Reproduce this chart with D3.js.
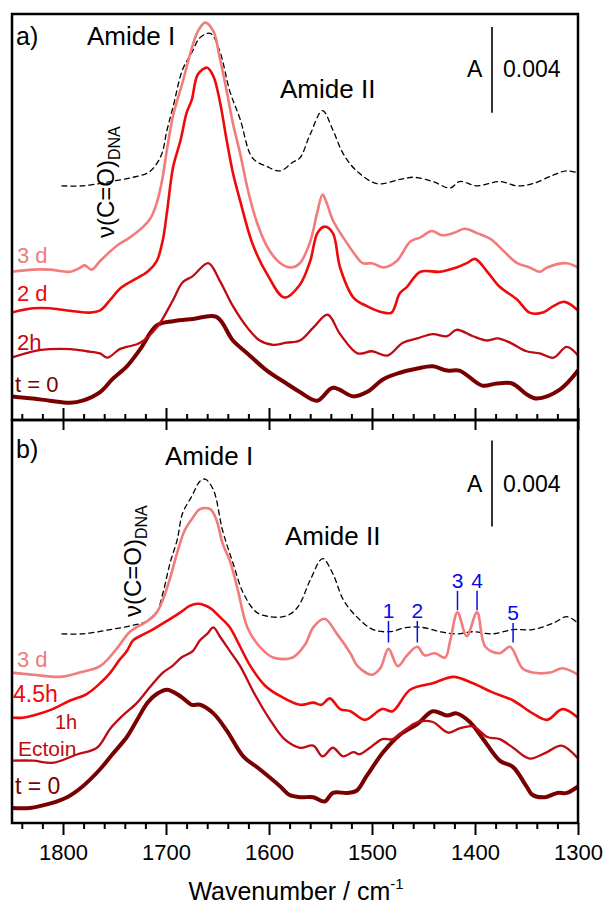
<!DOCTYPE html>
<html>
<head>
<meta charset="utf-8">
<script src="https://cdn.jsdelivr.net/npm/d3@7"></script>
<style>
  body { margin: 0; background: #fff; }
  svg { display: block; }
  text { font-family: "Liberation Sans", Arial, sans-serif; }
</style>
</head>
<body>
<div id="chart"></div>
<script>
// spectra as [wavenumber / cm-1, absorbance x 1e-3 (stacked offsets included)]
const a3d = [[1850,6.9],[1829,7.0],[1813,7.0],[1793,6.9],[1783,7.1],[1779,7.2],[1772,7.0],[1764,7.4],[1748,8.1],[1735,8.5],[1722,9.0],[1715,9.4],[1709,10.1],[1704,11.1],[1699,12.6],[1693,14.2],[1684,15.7],[1675,17.3],[1669,18.1],[1662,18.5],[1654,18.1],[1648,16.9],[1641,15.3],[1635,13.8],[1628,12.4],[1620,10.6],[1611,9.1],[1601,8.0],[1589,7.3],[1578,7.1],[1570,7.3],[1560,8.3],[1553,9.7],[1548,10.5],[1544,10.1],[1538,9.3],[1528,8.5],[1518,7.8],[1509,7.3],[1500,7.3],[1489,7.1],[1476,7.4],[1463,8.3],[1453,8.5],[1442,8.8],[1432,8.6],[1421,8.7],[1410,8.9],[1398,8.7],[1384,8.4],[1373,7.9],[1359,7.3],[1347,7.1],[1337,6.9],[1330,7.1],[1311,7.3],[1300,7.1]];
const a2d = [[1850,5.0],[1829,5.2],[1813,5.2],[1796,5.1],[1774,5.0],[1764,5.1],[1754,5.6],[1745,6.1],[1732,6.5],[1718,6.9],[1709,7.4],[1703,8.4],[1699,9.7],[1693,11.8],[1686,13.0],[1680,14.3],[1675,14.9],[1669,16.1],[1660,16.4],[1654,16.0],[1648,14.9],[1641,13.0],[1635,11.5],[1628,10.2],[1616,8.2],[1602,6.8],[1585,5.7],[1570,6.3],[1560,7.4],[1553,8.7],[1546,9.0],[1538,8.7],[1531,7.1],[1518,5.7],[1505,5.3],[1489,5.0],[1481,5.0],[1473,5.9],[1466,6.2],[1453,6.9],[1434,6.9],[1418,7.1],[1408,7.3],[1400,7.5],[1388,6.9],[1376,6.2],[1359,5.6],[1347,5.0],[1334,5.0],[1324,5.3],[1313,5.5],[1300,5.1]];
const a2h = [[1850,2.9],[1829,3.2],[1813,3.3],[1793,3.3],[1777,3.2],[1764,3.1],[1757,2.9],[1745,3.3],[1738,3.4],[1725,3.6],[1709,4.3],[1693,5.6],[1684,6.4],[1674,6.7],[1659,7.3],[1648,6.5],[1635,5.3],[1621,4.3],[1609,3.7],[1596,3.5],[1583,3.6],[1570,3.7],[1557,4.3],[1543,4.9],[1531,4.0],[1514,3.1],[1500,3.2],[1485,3.0],[1470,3.6],[1456,3.8],[1441,4.0],[1427,3.9],[1418,4.2],[1402,3.9],[1388,3.7],[1378,3.8],[1366,3.6],[1350,3.2],[1337,3.1],[1324,2.9],[1311,3.4],[1300,3.0]];
const a0 = [[1850,1.1],[1829,1.0],[1813,0.9],[1793,0.8],[1781,0.9],[1764,1.3],[1752,1.9],[1738,2.5],[1725,3.3],[1709,4.4],[1693,4.6],[1674,4.7],[1651,4.8],[1635,3.7],[1621,3.1],[1602,2.3],[1583,1.7],[1570,1.3],[1553,0.9],[1538,1.5],[1518,1.1],[1505,1.3],[1489,1.9],[1473,2.2],[1456,2.4],[1441,2.5],[1427,2.3],[1415,2.3],[1393,1.6],[1379,1.7],[1364,1.7],[1350,1.2],[1340,1.0],[1318,1.4],[1300,2.3]];
const aDna = [[1801,10.9],[1781,10.9],[1754,11.1],[1732,11.3],[1718,11.5],[1711,11.8],[1704,12.4],[1699,13.5],[1693,14.6],[1684,16.3],[1675,17.1],[1667,17.8],[1657,18.0],[1648,17.2],[1638,15.3],[1628,14.0],[1616,12.2],[1602,11.8],[1589,11.6],[1577,12.0],[1570,12.2],[1560,13.3],[1548,14.4],[1538,13.5],[1528,12.4],[1515,11.6],[1495,11.0],[1473,11.2],[1460,11.3],[1441,11.1],[1424,10.8],[1415,11.1],[1398,10.9],[1376,11.1],[1359,10.9],[1344,11.0],[1324,11.4],[1311,11.6],[1300,11.5]];

const b3d = [[1850,7.0],[1829,6.9],[1803,6.8],[1784,7.0],[1764,7.3],[1748,8.1],[1735,8.9],[1718,9.4],[1709,9.8],[1703,10.4],[1696,11.4],[1689,12.6],[1682,13.6],[1674,14.2],[1667,14.6],[1657,14.6],[1651,14.1],[1645,13.0],[1638,12.2],[1631,11.0],[1621,9.1],[1609,8.2],[1596,7.7],[1577,7.7],[1565,8.3],[1557,9.1],[1546,9.5],[1534,8.8],[1521,7.9],[1514,7.3],[1500,6.9],[1492,7.2],[1484,8.1],[1475,7.3],[1466,7.8],[1456,8.2],[1449,7.8],[1439,7.9],[1429,7.7],[1424,8.5],[1417,9.8],[1408,8.7],[1398,9.8],[1390,8.2],[1376,7.9],[1366,8.2],[1354,7.2],[1344,7.0],[1327,7.0],[1315,7.2],[1300,6.9]];
const b45h = [[1850,4.9],[1839,4.9],[1829,5.0],[1810,5.3],[1793,5.7],[1777,6.0],[1764,6.5],[1754,7.0],[1745,7.6],[1738,8.0],[1732,8.5],[1725,8.7],[1713,9.0],[1699,9.4],[1686,9.8],[1677,10.1],[1669,10.2],[1657,10.0],[1648,9.6],[1638,9.1],[1628,8.2],[1618,7.3],[1604,6.4],[1589,5.9],[1570,5.5],[1557,5.6],[1549,5.5],[1541,5.8],[1531,5.3],[1521,5.2],[1507,4.8],[1490,5.3],[1480,5.2],[1463,6.2],[1441,6.5],[1421,6.8],[1402,6.5],[1384,6.1],[1363,5.7],[1344,5.1],[1330,4.8],[1315,5.3],[1300,4.9]];
const b1h = [[1850,2.9],[1829,2.9],[1810,2.8],[1786,3.2],[1767,3.5],[1754,4.4],[1742,5.0],[1728,5.6],[1716,6.3],[1703,7.0],[1694,7.3],[1685,7.7],[1674,8.0],[1667,8.5],[1660,8.8],[1654,9.1],[1648,8.7],[1638,8.0],[1628,7.3],[1614,6.0],[1599,4.8],[1585,3.9],[1570,3.5],[1557,3.6],[1548,3.1],[1538,3.5],[1528,3.1],[1518,3.3],[1512,3.2],[1502,3.5],[1490,3.9],[1480,3.9],[1466,4.4],[1455,4.7],[1441,4.7],[1426,4.2],[1415,4.4],[1402,4.5],[1388,4.0],[1376,3.9],[1363,3.5],[1347,3.0],[1330,3.3],[1316,3.6],[1300,3.0]];
const b0 = [[1850,0.7],[1832,0.7],[1813,0.9],[1796,1.2],[1781,1.7],[1764,2.5],[1752,3.2],[1738,4.0],[1728,4.8],[1718,5.6],[1709,6.0],[1699,6.2],[1686,5.9],[1675,5.5],[1667,5.5],[1654,5.1],[1641,4.3],[1625,3.1],[1609,2.5],[1589,1.7],[1580,1.3],[1570,1.2],[1557,1.2],[1546,1.0],[1538,1.4],[1524,1.4],[1515,1.5],[1505,2.2],[1489,3.3],[1473,4.1],[1456,4.6],[1441,5.2],[1427,5.0],[1418,5.1],[1405,4.7],[1392,3.9],[1376,2.9],[1363,2.6],[1350,1.7],[1344,1.3],[1332,1.2],[1320,1.4],[1311,1.4],[1300,1.7]];
const bDna = [[1801,8.8],[1781,8.8],[1754,9.0],[1732,9.2],[1718,9.4],[1709,9.8],[1703,10.7],[1696,12.1],[1689,13.2],[1684,14.4],[1675,15.2],[1667,15.9],[1662,16.0],[1654,15.5],[1645,13.6],[1635,12.1],[1625,10.7],[1612,9.8],[1599,9.6],[1586,9.6],[1577,9.8],[1570,10.2],[1560,11.3],[1548,12.3],[1538,11.6],[1528,10.4],[1515,9.6],[1499,9.0],[1483,8.9],[1466,9.1],[1451,9.1],[1434,8.9],[1418,8.8],[1402,8.9],[1383,8.8],[1363,9.0],[1344,9.0],[1324,9.3],[1311,9.6],[1300,9.3]];

const majorTicks = [1800, 1700, 1600, 1500, 1400, 1300];
const peakLabels = ['1', '2', '3', '4', '5'];
const peakWn = [1484, 1456, 1417, 1398, 1363];
const peakTop = [9.4, 9.4, 10.8, 10.8, 9.3];   // marker top, x 1e-3
const peakBottom = [8.4, 8.4, 9.9, 9.9, 8.4];

const colors = { d3: '#f27b7b', red: '#ee0a0a', mid: '#c00a12', t0: '#780000' };

const svg = d3.select('#chart').append('svg').attr('width', 606).attr('height', 908);

const x = d3.scaleLinear().domain([1850, 1300]).range([11.5, 578]);
const left = 12, right = 578;

const panels = [
  {
    id: 'a', top: 14, bottom: 420, ymax: 18.9,
    curves: [
      { data: aDna, color: '#000', width: 1.3, dash: '5,4' },
      { data: a0, color: colors.t0, width: 4 },
      { data: a2h, color: colors.mid, width: 2.3 },
      { data: a2d, color: colors.red, width: 2.6 },
      { data: a3d, color: colors.d3, width: 2.6 },
    ],
    labels: [
      { t: '3 d', x: 17, y: 263, c: colors.d3 },
      { t: '2 d', x: 17, y: 301, c: colors.red },
      { t: '2h', x: 17, y: 350, c: colors.mid },
      { t: 't = 0', x: 15, y: 392, c: colors.t0 },
    ],
    tag: { t: 'a)', x: 16, y: 45 },
    amide1: { x: 87, y: 45 }, amide2: { x: 280, y: 98 },
    nu: { x: 114, y: 238 },
    bar: { y: 77, top: 18.3 },
  },
  {
    id: 'b', top: 420, bottom: 823, ymax: 18.75,
    curves: [
      { data: bDna, color: '#000', width: 1.3, dash: '5,4' },
      { data: b0, color: colors.t0, width: 4 },
      { data: b1h, color: colors.mid, width: 2.3 },
      { data: b45h, color: colors.red, width: 2.6 },
      { data: b3d, color: colors.d3, width: 2.6 },
    ],
    labels: [
      { t: '3 d', x: 17, y: 667, c: colors.d3, s: 22 },
      { t: '4.5h', x: 13, y: 702, c: colors.red, s: 23 },
      { t: '1h', x: 55, y: 729, c: colors.mid, s: 20 },
      { t: 'Ectoin', x: 18, y: 756, c: colors.mid, s: 21 },
      { t: 't = 0', x: 15, y: 794, c: colors.t0, s: 23 },
    ],
    tag: { t: 'b)', x: 16, y: 458 },
    amide1: { x: 165, y: 465 }, amide2: { x: 285, y: 545 },
    nu: { x: 141, y: 617 },
    bar: { y: 492, top: 17.8 },
  },
];

panels.forEach((p) => {
  const y = d3.scaleLinear().domain([0, p.ymax]).range([p.bottom, p.top]);
  p.y = y;
  const g = svg.append('g');

  svg.append('clipPath').attr('id', 'clip-' + p.id)
    .append('rect').attr('x', left).attr('y', p.top)
    .attr('width', right - left).attr('height', p.bottom - p.top);

  const line = d3.line()
    .x((d) => x(d[0]))
    .y((d) => y(d[1]))
    .curve(d3.curveCatmullRom.alpha(0.5));

  g.append('g').attr('clip-path', `url(#clip-${p.id})`)
    .selectAll('path')
    .data(p.curves)
    .enter()
    .append('path')
    .attr('d', (d) => line(d.data))
    .attr('fill', 'none')
    .attr('stroke', (d) => d.color)
    .attr('stroke-width', (d) => d.width)
    .attr('stroke-dasharray', (d) => d.dash || null)
    .attr('stroke-linejoin', 'round')
    .attr('stroke-linecap', 'round');

  // curve labels
  g.selectAll('.lbl')
    .data(p.labels)
    .enter()
    .append('text')
    .attr('x', (d) => d.x)
    .attr('y', (d) => d.y)
    .style('font-size', (d) => (d.s || 22) + 'px')
    .style('fill', (d) => d.c)
    .text((d) => d.t);

  g.append('text').attr('x', p.tag.x).attr('y', p.tag.y)
    .style('font-size', '25px').text(p.tag.t);
  g.append('text').attr('x', p.amide1.x).attr('y', p.amide1.y)
    .style('font-size', '26px').text('Amide I');
  g.append('text').attr('x', p.amide2.x).attr('y', p.amide2.y)
    .style('font-size', '26px').text('Amide II');

  const nu = g.append('text')
    .attr('transform', `translate(${p.nu.x},${p.nu.y}) rotate(-90)`)
    .style('font-size', '24px');
  nu.append('tspan').text('ν(C=O)');
  nu.append('tspan').attr('dy', 6).style('font-size', '16px').text('DNA');

  // scale bar 0.004
  g.append('line')
    .attr('x1', 492).attr('x2', 492)
    .attr('y1', y(p.bar.top)).attr('y2', y(p.bar.top - 4))
    .attr('stroke', '#333').attr('stroke-width', 2);
  g.append('text').attr('x', 467).attr('y', p.bar.y)
    .style('font-size', '23px').text('A');
  g.append('text').attr('x', 503).attr('y', p.bar.y)
    .style('font-size', '23px').text('0.004');

  // frame
  svg.append('rect')
    .attr('x', left).attr('y', p.top)
    .attr('width', right - left).attr('height', p.bottom - p.top)
    .attr('fill', 'none').attr('stroke', '#000').attr('stroke-width', 2.5);
});

// peak markers in panel b
const yb = panels[1].y;
const pk = svg.append('g').style('fill', '#0a0ae6');
peakLabels.forEach((t, i) => {
  pk.append('line')
    .attr('x1', x(peakWn[i])).attr('x2', x(peakWn[i]))
    .attr('y1', yb(peakTop[i])).attr('y2', yb(peakBottom[i]))
    .attr('stroke', '#0a0ae6').attr('stroke-width', 1.5);
  pk.append('text')
    .attr('x', x(peakWn[i])).attr('y', yb(peakTop[i]) - 3)
    .attr('text-anchor', 'middle')
    .style('font-size', '21px')
    .text(t);
});

// axes
const minorTicks = d3.range(1840, 1299, -20).filter((v) => v % 100 !== 0);

function ticks(yPos, gen, vals, size) {
  const a = svg.append('g')
    .attr('transform', `translate(0,${yPos})`)
    .call(gen(x).tickValues(vals).tickSize(size).tickFormat(''));
  a.select('.domain').remove();
  a.selectAll('line').attr('stroke', '#000').attr('stroke-width', 2);
  return a;
}

ticks(420, d3.axisBottom, majorTicks, -12);
ticks(420, d3.axisBottom, minorTicks, -6);
ticks(420, d3.axisTop, majorTicks, -10);
ticks(823, d3.axisBottom, minorTicks, 6);

const xAxis = svg.append('g')
  .attr('transform', 'translate(0,823)')
  .call(d3.axisBottom(x).tickValues(majorTicks).tickSize(12).tickPadding(9)
    .tickFormat(d3.format('d')));
xAxis.select('.domain').remove();
xAxis.selectAll('line').attr('stroke', '#000').attr('stroke-width', 2);
xAxis.selectAll('text')
  .style('font-size', '22px')
  .style('fill', '#000')
  .style('font-family', '"Liberation Sans", Arial, sans-serif');

const title = svg.append('text')
  .attr('x', 296).attr('y', 900)
  .attr('text-anchor', 'middle')
  .style('font-size', '25px');
title.append('tspan').text('Wavenumber / cm');
title.append('tspan').attr('dy', -11).style('font-size', '15px').text('-1');
</script>
</body>
</html>
